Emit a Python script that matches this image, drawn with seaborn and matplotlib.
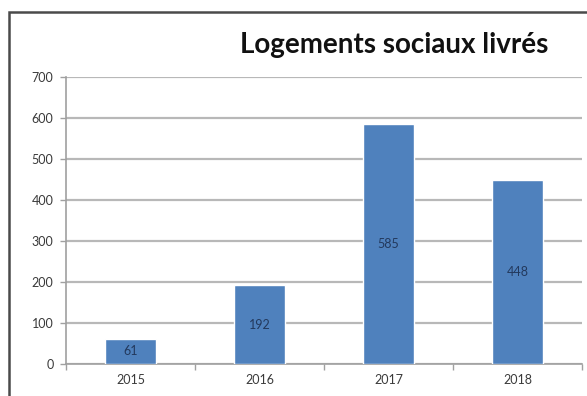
import matplotlib
matplotlib.use("Agg")
import matplotlib.pyplot as plt
from matplotlib.patches import Rectangle
import seaborn as sns
import pandas as pd
import numpy as np

years = ["2015", "2016", "2017", "2018"]
values = [61, 192, 585, 448]
yticks = [0, 100, 200, 300, 400, 500, 600, 700]
title = "Logements sociaux livrés"

sns.set_theme(style="white")
plt.rcParams["font.family"] = ["Lato", "DejaVu Sans"]

W, H = 587, 396
fig = plt.figure(figsize=(W / 100, H / 100), dpi=100)
fig.patch.set_facecolor("white")

ax = fig.add_axes([66 / W, 1 - 364 / H, (582 - 66) / W, (364 - 77) / H])

df = pd.DataFrame({"year": years, "value": values})
sns.barplot(data=df, x="year", y="value", color="#4F81BD", saturation=1,
            width=0.4, ax=ax, zorder=3)

ax.set_xlim(-0.5, len(years) - 0.5)
ax.set_ylim(0, 700)
ax.set_yticks(yticks)
ax.set_yticklabels([str(v) for v in yticks])
ax.set_xlabel("")
ax.set_ylabel("")

grid_c = "#b8b8b8"
ax.yaxis.grid(True, color=grid_c, linewidth=1.6, zorder=0)
ax.set_axisbelow(True)
for s in ["top", "right"]:
    ax.spines[s].set_visible(False)
for s in ["left", "bottom"]:
    ax.spines[s].set_color("#a0a0a0")
    ax.spines[s].set_linewidth(1.2)

ax.tick_params(axis="y", which="major", length=4, width=1, color="#a0a0a0",
               labelsize=9, labelcolor="#3a3a3a", pad=5, direction="out", left=True)
ax.tick_params(axis="x", which="major", length=0, labelsize=9,
               labelcolor="#3a3a3a", pad=7)
ax.set_xticks(np.arange(-0.5, len(years)), minor=True)
ax.tick_params(axis="x", which="minor", length=4, width=1, color="#a0a0a0",
               direction="out", bottom=True)

for i, v in enumerate(values):
    ax.text(i, v / 2, str(v), ha="center", va="center", fontsize=9,
            color="#23395d", zorder=5)

fig.text(394 / W, 1 - 45 / H, title, ha="center", va="center",
         fontsize=20, fontweight="bold", color="#111111")

fig.patches.append(Rectangle((9 / W, -0.1), 1.2, 1 - 12 / H + 0.1,
                             transform=fig.transFigure, fill=False,
                             edgecolor="#4a4a4a", linewidth=1.8))

fig.savefig("out.png", dpi=100, facecolor="white")
